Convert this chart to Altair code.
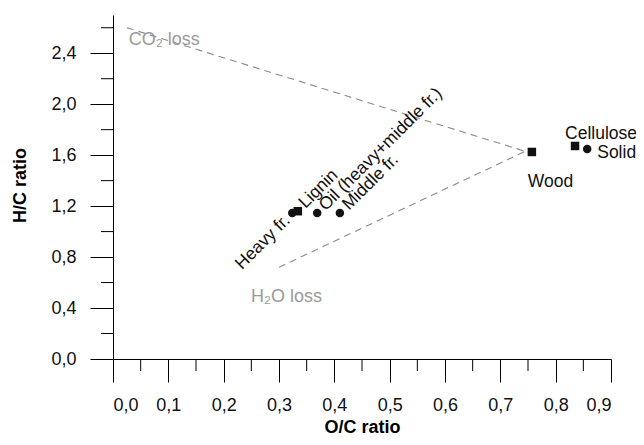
import altair as alt
import pandas as pd

# Samples
names = ["Heavy fr.", "Lignin", "Oil (heavy+middle fr.)", "Middle fr.", "Wood", "Cellulose", "Solid"]
oc = [0.324, 0.334, 0.369, 0.410, 0.757, 0.835, 0.857]
hc = [1.146, 1.160, 1.146, 1.146, 1.625, 1.672, 1.648]
shapes = ["circle", "square", "circle", "circle", "square", "square", "circle"]

# Reaction lines towards wood
line_names = ["CO₂ loss", "H₂O loss"]
line_start_oc = [0.025, 0.300]
line_start_hc = [2.600, 0.720]
line_end_oc = [0.745, 0.745]
line_end_hc = [1.630, 1.630]

# Axis ticks
x_major = [0.0, 0.1, 0.2, 0.3, 0.4, 0.5, 0.6, 0.7, 0.8, 0.9]
x_minor = [0.05, 0.15, 0.25, 0.35, 0.45, 0.55, 0.65, 0.75, 0.85]
y_major = [0.0, 0.4, 0.8, 1.2, 1.6, 2.0, 2.4]
y_minor = [0.2, 0.6, 1.0, 1.4, 1.8, 2.2, 2.6]

FONT = "Liberation Sans"
W, H = 498, 344

pts = pd.DataFrame({"name": names, "oc": oc, "hc": hc, "shape": shapes})
lines = pd.DataFrame({"name": line_names, "x1": line_start_oc, "y1": line_start_hc,
                      "x2": line_end_oc, "y2": line_end_hc})
xmin = pd.DataFrame({"v": x_minor})
ymin = pd.DataFrame({"v": y_minor})

xs = alt.Scale(domain=[0, 0.9], nice=False, zero=False)
ys = alt.Scale(domain=[0, 2.7], nice=False, zero=False)
lab = "replace(format(datum.value, '.1f'), '.', ',')"

base_pts = alt.Chart(pts).encode(
    x=alt.X("oc:Q", scale=xs, axis=alt.Axis(
        values=x_major, labelExpr=lab, title="O/C ratio", grid=False,
        tickSize=23, labelPadding=14, labelFontSize=18, labelFont=FONT,
        titleFont=FONT, titleFontSize=18, titleFontWeight="bold",
        titleY=68, titleBaseline="middle", domainColor="black",
        tickColor="black", labelColor="#111")),
    y=alt.Y("hc:Q", scale=ys, axis=alt.Axis(
        values=y_major, labelExpr=lab, title="H/C ratio", grid=False,
        tickSize=23, labelPadding=14, labelFontSize=18, labelFont=FONT,
        titleFont=FONT, titleFontSize=18, titleFontWeight="bold",
        titleX=-93, titleY=170, titleAngle=270, titleAlign="center",
        titleBaseline="middle", domainColor="black", tickColor="black",
        labelColor="#111")),
)

points = base_pts.mark_point(filled=True, opacity=1, size=72, color="#111").encode(
    shape=alt.Shape("shape:N", scale=None, legend=None))

label_specs = {
    "Heavy fr.": dict(align="right", angle=315, dx=-7, dy=0),
    "Lignin": dict(align="left", angle=315, dx=7, dy=-1),
    "Oil (heavy+middle fr.)": dict(align="left", angle=315, dx=7, dy=0),
    "Middle fr.": dict(align="left", angle=315, dx=8, dy=0),
    "Wood": dict(align="left", angle=0, dx=-4, dy=30),
    "Cellulose": dict(align="left", angle=0, dx=-10, dy=-12),
    "Solid": dict(align="left", angle=0, dx=10, dy=4),
}
texts = []
for n, spec in label_specs.items():
    texts.append(
        alt.Chart(pts).transform_filter(alt.datum.name == n)
        .mark_text(font=FONT, fontSize=17.5, color="#111", baseline="middle", **spec)
        .encode(x=alt.X("oc:Q", scale=xs), y=alt.Y("hc:Q", scale=ys), text="name:N")
    )

rules = alt.Chart(lines).mark_rule(color="#8a8a8a", strokeWidth=1.1, strokeDash=[7, 5]).encode(
    x=alt.X("x1:Q", scale=xs), y=alt.Y("y1:Q", scale=ys), x2="x2:Q", y2="y2:Q")

line_label_specs = {
    "CO₂ loss": dict(dx=2, dy=12),
    "H₂O loss": dict(dx=-28, dy=30),
}
line_texts = []
for n, spec in line_label_specs.items():
    line_texts.append(
        alt.Chart(lines).transform_filter(alt.datum.name == n)
        .mark_text(font=FONT, fontSize=18, color="#9a9a9a", align="left", baseline="middle", **spec)
        .encode(x=alt.X("x1:Q", scale=xs), y=alt.Y("y1:Q", scale=ys), text="name:N")
    )

xminor = alt.Chart(xmin).mark_rule(color="black", strokeWidth=1).encode(
    x=alt.X("v:Q", scale=xs), y=alt.value(H), y2=alt.value(H + 12))
yminor = alt.Chart(ymin).mark_rule(color="black", strokeWidth=1).encode(
    y=alt.Y("v:Q", scale=ys), x=alt.value(-12), x2=alt.value(0))

chart = alt.layer(rules, xminor, yminor, points, *texts, *line_texts).properties(
    width=W, height=H,
    autosize=alt.AutoSizeParams(type="none"),
    padding={"left": 105, "top": 7, "right": 25, "bottom": 78},
).configure_view(stroke=None).configure_axis(domainWidth=1, tickWidth=1)

chart.save("out.html", embed_options={"renderer": "svg", "actions": False})
